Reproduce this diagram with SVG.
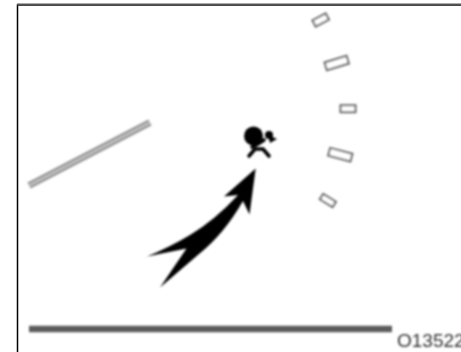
<svg xmlns="http://www.w3.org/2000/svg" width="461" height="352" viewBox="0 0 461 352">
<defs>
<filter id="soft" x="0" y="0" width="461" height="352" filterUnits="userSpaceOnUse"><feGaussianBlur stdDeviation="0.800"/></filter>
</defs>
<style>
.slot{fill:#fff;stroke:#666;stroke-width:2}
.ink{fill:#000}
.limb{stroke:#000;stroke-width:3.600;fill:none;stroke-linecap:round}
.soft{filter:url(#soft)}
</style>
<rect width="461" height="352" fill="#fff"/>
<g id="frame" fill="none">
<path d="M17.500 352V5H461" stroke="#000" stroke-width="1.500"/>
<path d="M17 4.500H461" stroke="#555" stroke-width="2"/>
</g>
<g id="bar-diagonal" class="soft">
<path d="M29 185.500L150 122.500" stroke="#999" stroke-width="7" fill="none"/>
<path d="M29 185.500L150 122.500" stroke="#ddd" stroke-width="1.400" fill="none"/>
</g>
<g id="slots" class="soft">
<rect class="slot" x="-7.500" y="-3.500" width="15" height="7" transform="translate(320.700 20) rotate(-28)"/>
<rect class="slot" x="-11.500" y="-4" width="23" height="8" transform="translate(336.700 63) rotate(-17)"/>
<rect class="slot" x="-7.500" y="-3.500" width="15" height="7" transform="translate(348 108.700)"/>
<rect class="slot" x="-11.500" y="-4" width="23" height="8" transform="translate(340.300 154.700) rotate(15)"/>
<rect class="slot" x="-7.500" y="-3" width="15" height="6.500" transform="translate(328 200.300) rotate(32)"/>
</g>
<g id="figure" class="soft">
<circle class="ink" cx="253.500" cy="136" r="9.500"/>
<path class="limb" d="M249 156L255 149L263 149L269 156"/>
<path class="limb" d="M252 147L258 144L264 140"/>
<circle class="ink" cx="269" cy="135" r="4"/>
<path class="ink" d="M268 135L277 139L270 143Z"/>
</g>
<g id="connectors" class="soft">
<path class="ink" d="M255.700 168.500L249.500 214.500L243 201Q224 234 199 254L160 287.500L186.500 248.500L147 256.500Q170 247 190 235Q215 220 238 195L224 196.500Z"/>
</g>
<g id="baseline" class="soft">
<path d="M29 329H392" stroke="#5c5c5c" stroke-width="6.500" fill="none"/>
</g>
<text id="code" class="soft" x="397" y="346.500" font-family="Liberation Sans, Arial, sans-serif" font-size="19" fill="#333">O13522</text>
</svg>
